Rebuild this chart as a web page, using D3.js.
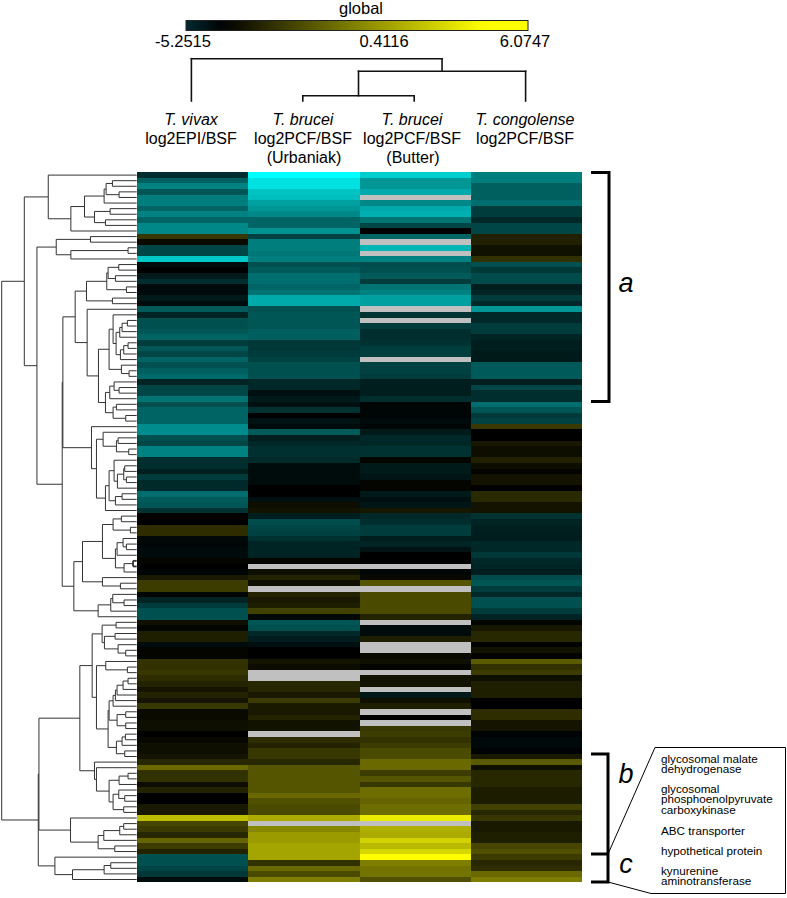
<!DOCTYPE html>
<html>
<head>
<meta charset="utf-8">
<script src="https://cdn.jsdelivr.net/npm/d3@7"></script>
<style>
  body { margin: 0; background: #fff; }
  text { font-family: "Liberation Sans", Arial, sans-serif; fill: #000; }
</style>
</head>
<body>
<svg class="chart"></svg>
<script>
// log2 ratios, one array per column, top row first. null = no data (grey)
const vivax = [-.93,-1.95,-2.67,-1.75,-2.57,-2.57,-2.06,-2.67,-2.06,-2.78,-2.78,1.31,.24,-1.44,-1.44,-4.12,-.21,0,-.51,-.93,
  -.21,-.21,-.51,-.25,-1.85,-.72,-1.65,-1.65,-1.75,-2.06,-1.23,-1.75,-1.44,-2.06,-1.65,-1.95,-2.16,-.72,-1.44,-1.44,
  -2.37,-1.65,-2.06,-2.06,-2.06,-2.88,-2.88,-1.65,-1.44,-2.67,-2.67,-.93,-.93,-.62,-1.23,-.86,-.86,-2.26,-1.85,-1.75,
  -1.03,0,0,1.07,1.07,-.16,-.12,-.21,-.21,.12,0,-.1,.6,1.43,1.43,-.1,-.72,-1.23,-1.65,-1.65,
  .36,.12,.71,.71,-.25,.12,.12,1.19,1.19,1.31,1.07,.83,.48,.83,.48,1.31,.24,.24,.36,.36,
  0,.19,.36,.36,.48,.95,2.5,1.19,1.19,.29,.83,0,0,.6,.6,4.52,1.67,1.43,.95,2.38,
  1.43,.83,-1.65,-1.65,-1.44,-1.13,-.25];
const urbaniak = [-5.25,-4.63,-4.63,-4.01,-3.91,-3.29,-3.09,-2.78,-2.06,-2.06,-2.98,-1.34,-2.57,-2.57,-2.47,-2.57,-1.65,-1.85,-2.26,-2.26,
  -2.06,-2.37,-3.5,-3.5,-1.65,-1.75,-1.75,-1.75,-1.95,-1.95,-1.13,-1.13,-1.23,-1.34,-1.65,-1.65,-1.65,-.82,-.82,-.31,
  -.51,-.31,-1.03,0,-.37,-.25,-1.85,-.62,-.82,-.99,-.99,-.86,-.25,-.25,-.25,-.25,0,0,-.31,.33,
  .43,-.62,-1.54,-1.44,-1.34,-1.03,-.72,-.72,-.72,.12,null,.36,.83,.36,null,.83,.6,.71,1.55,-.16,
  -1.75,-1.65,-.82,-.58,-.31,0,0,.48,.29,null,null,.95,.95,.6,1.43,.6,.6,.83,.43,.43,
  null,1.07,.83,1.31,1.31,.95,2.02,2.02,2.02,2.02,2.02,2.5,1.9,1.79,1.79,4.05,null,3.21,3.69,3.69,
  3.93,3.93,3.93,1.19,2.5,1.79,2.98];
const butter = [-4.22,-3.09,-3.09,-3.5,null,-2.78,-3.5,-3.6,-2.37,-1.44,0,-2.06,null,-3.7,null,-2.67,-1.54,-1.65,-1.85,-1.23,
  -2.37,-2.67,-3.29,-3.29,null,-1.03,null,-1.23,-.93,-.93,-1.03,-1.28,-1.28,null,-1.34,-1.34,-1.23,-.62,-.62,-.62,
  -.93,-.1,-.1,-.1,-.21,-.1,-.51,-.82,-.78,-1.03,-1.03,.12,-.51,-.51,-.41,.1,.1,-.51,-.31,-.45,
  .55,-.82,-.93,-1.23,-1.23,-.62,-.72,-.37,0,0,null,-.1,.19,2.02,null,1.79,1.79,1.79,1.79,.83,
  null,-.25,-.25,.71,null,null,.24,.36,.12,null,.43,.43,null,-.5,.36,.71,null,0,null,1.31,
  1.43,1.19,1.43,1.79,1.79,2.5,2.5,1.43,2.02,1.31,2.62,2.62,2.38,2.62,2.62,5.6,null,4.17,4.05,5,
  4.4,5.12,6.07,2.98,2.74,2.74,1.9];
const congolense = [-2.57,-2.57,-1.95,-1.95,-1.95,-2.26,-1.23,-1.23,-.82,-1.44,-1.44,.79,.79,.4,.4,1.15,-1.65,-1.13,-1.54,-1.54,
  -.62,-.72,-1.23,-.82,-3.09,-.82,-.82,-1.23,-1.23,-.72,-.62,-.62,-.51,-.51,-1.85,-1.85,-1.85,-.62,-1.44,-.93,
  -.93,-2.26,-1.75,-1.2,-1.34,1.38,0,0,.57,.33,.33,.79,.33,.1,.45,.45,0,1,1,.45,
  .45,-1.03,-.72,-.66,-.62,-.58,-.82,-.82,-1.13,-.82,-.72,-.62,-1.54,-1.75,-1.23,-.82,-1.65,-1.65,-1.23,-.72,
  .12,.57,.93,.93,.07,.43,.07,2.14,1.15,1.43,.36,.71,.71,.71,0,0,1.07,1.07,.48,.48,
  -.06,-.18,-.18,-.06,.6,2.14,.36,.95,.95,.95,.67,.67,.67,1.55,.95,1.31,.6,.6,.71,.71,
  1.67,1.9,1.43,.95,1.07,2.5,2.98];

const columns = [vivax, urbaniak, butter, congolense];
const speciesLabels = ["T. vivax", "T. brucei", "T. brucei", "T. congolense"];
const ratioLabels = ["log2EPI/BSF", "log2PCF/BSF", "log2PCF/BSF", "log2PCF/BSF"];
const sourceLabels = ["", "(Urbaniak)", "(Butter)", ""];
const scaleTicks = [-5.2515, 0.4116, 6.0747];
const geneNames = [["glycosomal malate", "dehydrogenase"],
  ["glycosomal", "phosphoenolpyruvate", "carboxykinase"],
  ["ABC transporter"], ["hypothetical protein"],
  ["kynurenine", "aminotransferase"]];

// clustering: [merge height, child, child], a plain number is a row / column index
const clusterA = [266, 0, [198, [157, [98, [92, [73,1,2], [53,3,4]], 5], [127, [80,6,7], [94,8,9]]], 10]];
const clusterB = [242, [139,11,12], [198, [26,13,14], 15]];
const clusterC1 = [151, [90, [86, [54,16,17], [64,18,19]], [31,20,21]], [73,22,23]];
const clusterC2 = [149, 24, [115, [83, [71, 25, [62, [51,[44,[28,26,27],28],29], [49,[39,[26,30,31],32],33]]], [46,34,[23,35,36]]],
  [94, [81,[68,37,[53,38,39]],40], [71,[61,41,42],[33,43,44]]]]];
const clusterD = [136, 45, [121, [101, 46, [61, [56,47,48], [24,49,50]]],
  [94, [83, [68, 51, [58, [39,[36,52,53],[31,54,55]], 56]], [64, [44,57,58], 59]], 60]]];
const clusterE = [189, [163, [103, [71,[46,61,62],[19,63,64]], [64, [59,[41,65,[31,66,67]],68], [38,[11,69,70],71]]], [103,72,[49,73,74]]],
  [116,[78,[72,75,[38,76,77]],78],79]];
const clusterF = [104, [62,80,81], [97,[65,82,83],[56,84,[33,85,86]]]];
const clusterG = [121, [93,87,[28,88,89]], [86, [83, [71,[64,[59,[41,[26,90,91],92],93],94],95], [59,[33,96,97],[33,98,99]]],
  [61,[44,[34,100,101],102],[36,103,104]]]];
const clusterH = [127, 105, [121, 106, [83, [53,[26,107,108],109], [71,[54,110,[36,111,112]],[39,113,114]]]]];
const clusterI = [199, 115, [116, [99,[51,[39,116,117],118],119], [66,120,121]]];
const clusterJ = [246, 122, [193, [98,[78,123,124],125], 126]];

const rowTree = [406,
  [338, clusterA, [300, clusterB, [224, [222, [185, clusterC1, clusterC2], clusterD], clusterE]]],
  [296, [294, [171, [134, clusterF, clusterG], clusterH], clusterI], clusterJ]];
const columnTree = [42.3, 0, [29.7, [5.3, 1, 2], 3]];

const svg = d3.select('.chart')
              .attr('width', 787)
              .attr('height', 898);

const numRows = vivax.length;
const xScale = d3.scaleBand().domain(d3.range(columns.length)).range([136.7, 582.3]);
const yScale = d3.scaleBand().domain(d3.range(numRows)).range([172.3, 882.3]);
const color = d3.scaleLinear()
                .domain([-5.2515, 0, 6.0747])
                .range(["#00ffff", "#000000", "#ffff00"]);

// heatmap
columns.forEach((values, c) => {
  svg.append('g')
     .selectAll('rect')
     .data(values)
     .enter()
     .append('rect')
     .attr('x', xScale(c))
     .attr('y', (d, i) => yScale(i))
     .attr('width', xScale.bandwidth())
     .attr('height', yScale.bandwidth())
     .attr('shape-rendering', 'crispEdges')
     .attr('fill', (d) => d === null ? "#c0c0c0" : color(d));
});

// lays a tree out: pos(leaf) runs along the leaves, height(h) across them
let treeSegments = (tree, pos, height) => {
  let root = d3.hierarchy(tree, (d) => Array.isArray(d) ? d.slice(1) : null);
  root.eachAfter((n) => {
    if (n.children) {
      n.along = (n.children[0].along + n.children[n.children.length - 1].along) / 2;
      n.across = height(n.data[0]);
    } else {
      n.along = pos(n.data);
      n.across = height(0);
    }
  });
  let segments = [];
  root.each((n) => {
    if (!n.children) return;
    let first = n.children[0], last = n.children[n.children.length - 1];
    segments.push({ a1: first.along, b1: n.across, a2: last.along, b2: n.across, node: n });
    n.children.forEach((k) => {
      segments.push({ a1: k.along, b1: k.across, a2: k.along, b2: n.across, node: n });
    });
  });
  return segments;
};

// row dendrogram, the one merge of rows 69 and 70 is selected in the picture
const rowHeight = d3.scaleLinear().domain([0, 406]).range([136.7, 1.7]);
svg.append('g')
   .selectAll('line')
   .data(treeSegments(rowTree, (r) => yScale(r) + yScale.bandwidth() / 2, rowHeight))
   .enter()
   .append('line')
   .attr('x1', (d) => d.b1)
   .attr('x2', (d) => d.b2)
   .attr('y1', (d) => d.a1)
   .attr('y2', (d) => d.a2)
   .attr('stroke', "#333")
   .attr('stroke-width', (d) => d.node.data[1] === 69 ? 1.8 : 1);

// column dendrogram
const columnHeight = d3.scaleLinear().domain([0, 42.3]).range([101, 58.7]);
svg.append('g')
   .selectAll('line')
   .data(treeSegments(columnTree, (c) => xScale(c) + xScale.bandwidth() / 2 - 1, columnHeight))
   .enter()
   .append('line')
   .attr('x1', (d) => d.a1)
   .attr('x2', (d) => d.a2)
   .attr('y1', (d) => d.b1)
   .attr('y2', (d) => d.b2)
   .attr('stroke', "#111")
   .attr('stroke-width', 1.6)
   .attr('stroke-linecap', 'square');

// column labels
const labelCenter = [191, 303, 412, 525];
let columnLabels = svg.append('g').attr('text-anchor', 'middle').style('font-size', '16px');
speciesLabels.forEach((s, i) => {
  columnLabels.append('text').attr('x', labelCenter[i]).attr('y', 124.5).style('font-style', 'italic').text(s);
  columnLabels.append('text').attr('x', labelCenter[i]).attr('y', 144).text(ratioLabels[i]);
  if (sourceLabels[i]) columnLabels.append('text').attr('x', labelCenter[i] + 1).attr('y', 163).text(sourceLabels[i]);
});

// colour scale
const barScale = d3.scaleLinear().domain([-5.2515, 6.0747]).range([186, 528]);
const barColor = d3.scaleLinear()
                   .domain([-5.2515, -4, 4.6])
                   .range(["#002a30", "#000000", "#ffff00"])
                   .clamp(true);
let gradient = svg.append('defs')
                  .append('linearGradient')
                  .attr('id', 'bar');
d3.range(0, 1.001, 0.05).forEach((t) => {
  gradient.append('stop')
          .attr('offset', t)
          .attr('stop-color', barColor(-5.2515 + t * (6.0747 + 5.2515)));
});
svg.append('rect')
   .attr('x', barScale.range()[0])
   .attr('y', 20.5)
   .attr('width', barScale.range()[1] - barScale.range()[0])
   .attr('height', 10)
   .attr('fill', 'url(#bar)')
   .attr('stroke', "#222")
   .attr('stroke-width', 1);
svg.append('text')
   .attr('x', 361)
   .attr('y', 14)
   .attr('text-anchor', 'middle')
   .style('font-size', '16.5px')
   .text("global");
const tickCenter = [183, 384, 525];
svg.append('g')
   .selectAll('text')
   .data(scaleTicks)
   .enter()
   .append('text')
   .attr('x', (d, i) => tickCenter[i])
   .attr('y', 46.5)
   .attr('text-anchor', 'middle')
   .style('font-size', '16.5px')
   .text((d) => d.toFixed(4));

// brackets a, b, c
let brackets = svg.append('g').attr('fill', 'none').attr('stroke', "#000").attr('stroke-width', 3);
brackets.append('path').attr('d', 'M591,172.5H609V401.5H591');
brackets.append('path').attr('d', 'M591,754H608V882H591');
brackets.append('path').attr('d', 'M591,854H608');

let letters = svg.append('g').style('font-size', '27px').style('font-style', 'italic').attr('text-anchor', 'middle');
letters.append('text').attr('x', 626).attr('y', 292).text("a");
letters.append('text').attr('x', 626).attr('y', 783).text("b");
letters.append('text').attr('x', 626).attr('y', 873).text("c");

// callout with the gene names, wrapped lines sit tight as in the picture
svg.append('path')
   .attr('d', 'M608,854L655,747.5H785.5V893.5H651L608,882')
   .attr('fill', 'none')
   .attr('stroke', "#000")
   .attr('stroke-width', 1);
const geneBaseline = [762.5, 793, 835, 855, 875];
const geneLineStep = 10.3;
svg.append('g')
   .selectAll('text')
   .data(geneNames)
   .enter()
   .append('text')
   .style('font-size', '11.7px')
   .each(function(lines, i) {
     d3.select(this)
       .selectAll('tspan')
       .data(lines)
       .enter()
       .append('tspan')
       .attr('x', 661)
       .attr('y', (d, k) => geneBaseline[i] + k * geneLineStep)
       .text((d) => d);
   });
</script>
</body>
</html>
